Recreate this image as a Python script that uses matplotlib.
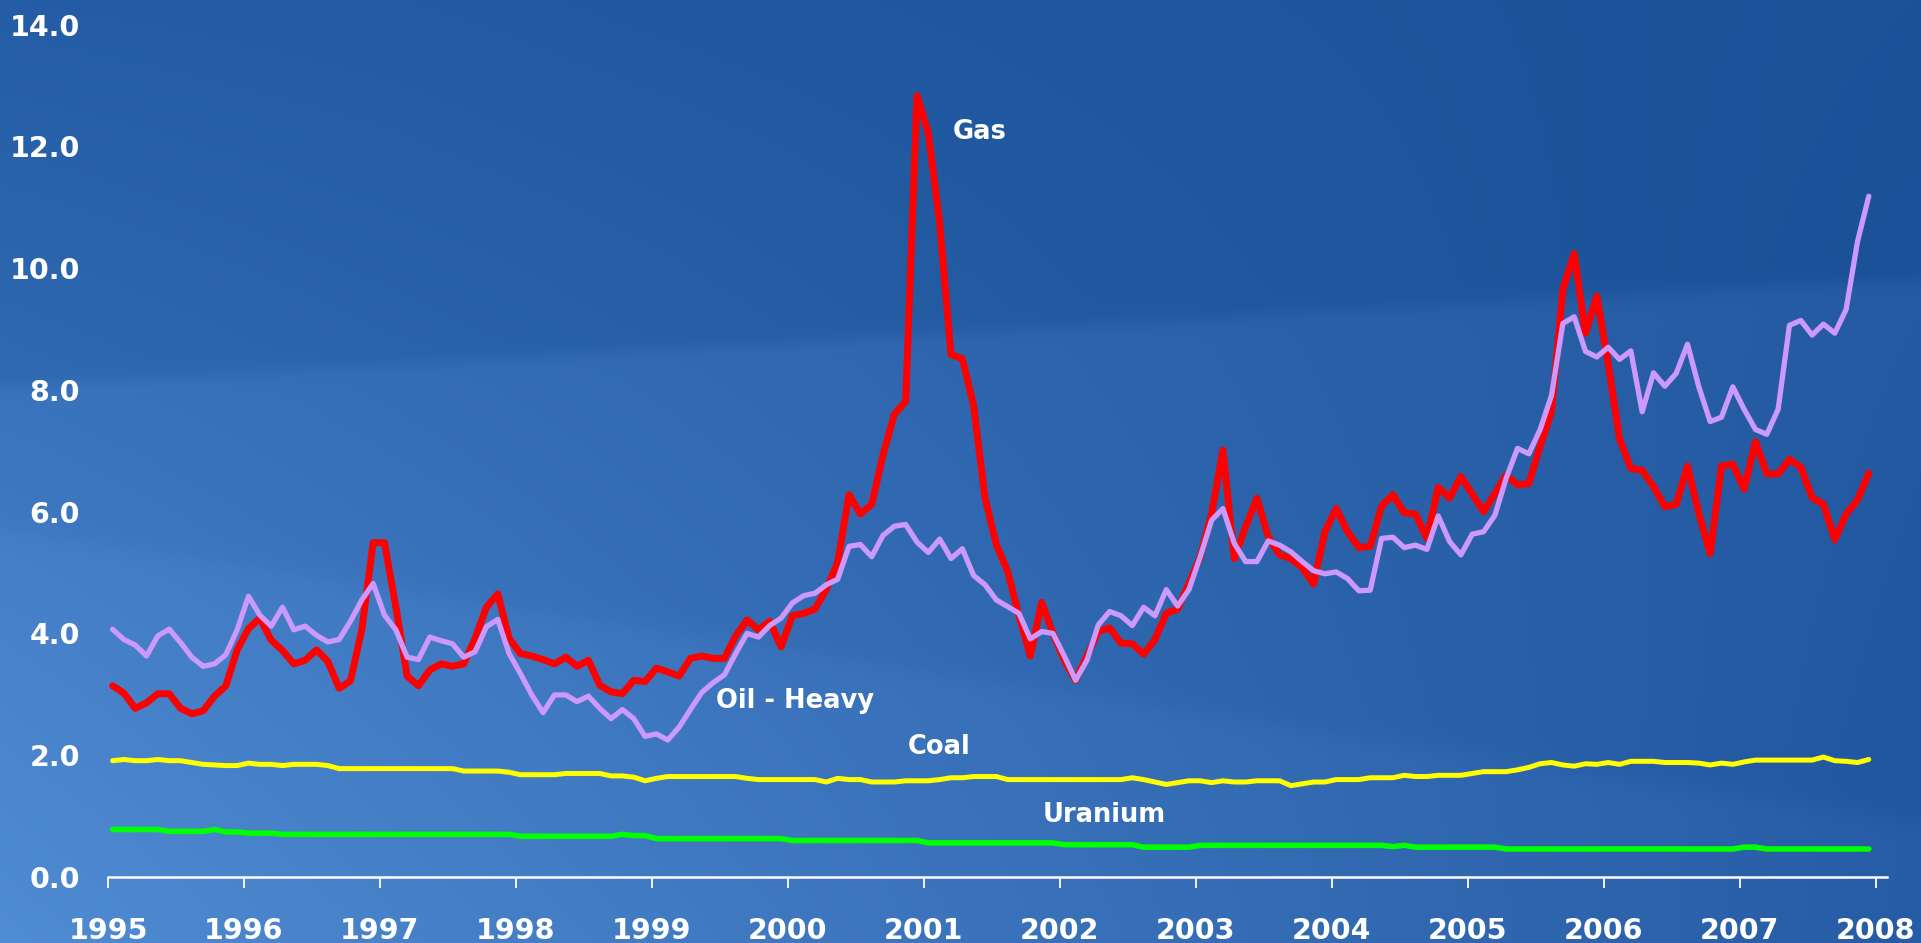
import numpy as np
import matplotlib.pyplot as plt

# monthly prices, Jan 1995 .. Dec 2007
years = list(range(1995, 2009))
yticks = [0, 2, 4, 6, 8, 10, 12, 14]

gas = [
    3.14, 3.02, 2.77, 2.86, 3.01, 3.01, 2.77, 2.68, 2.73, 2.97, 3.14, 3.73,
    4.08, 4.25, 3.89, 3.72, 3.50, 3.56, 3.73, 3.54, 3.10, 3.22, 4.06, 5.49,
    5.49, 4.44, 3.30, 3.14, 3.40, 3.50, 3.46, 3.50, 3.92, 4.43, 4.65, 3.92,
    3.67, 3.63, 3.57, 3.50, 3.61, 3.46, 3.56, 3.15, 3.04, 3.01, 3.23, 3.21,
    3.43, 3.37, 3.30, 3.59, 3.63, 3.59, 3.59, 3.96, 4.22, 4.06, 4.20, 3.78,
    4.29, 4.33, 4.40, 4.73, 5.17, 6.28, 5.96, 6.12, 6.93, 7.60, 7.81, 12.83,
    12.22, 10.74, 8.58, 8.51, 7.74, 6.23, 5.46, 5.02, 4.29, 3.63, 4.51, 4.00,
    3.56, 3.23, 3.63, 4.03, 4.09, 3.84, 3.83, 3.66, 3.90, 4.33, 4.40, 4.82,
    5.26, 5.97, 7.01, 5.23, 5.75, 6.22, 5.59, 5.29, 5.23, 5.08, 4.81, 5.67,
    6.05, 5.67, 5.41, 5.43, 6.09, 6.28, 5.98, 5.96, 5.56, 6.40, 6.22, 6.58,
    6.29, 6.00, 6.30, 6.60, 6.44, 6.46, 7.08, 7.64, 9.65, 10.24, 8.93, 9.54,
    8.43, 7.20, 6.71, 6.68, 6.41, 6.08, 6.12, 6.75, 5.97, 5.31, 6.75, 6.78,
    6.37, 7.15, 6.62, 6.62, 6.86, 6.73, 6.23, 6.12, 5.54, 5.96, 6.19, 6.63,
]

oil_heavy = [
    4.07, 3.90, 3.81, 3.63, 3.96, 4.07, 3.85, 3.61, 3.46, 3.50, 3.65, 4.06,
    4.61, 4.30, 4.12, 4.43, 4.06, 4.12, 3.97, 3.86, 3.90, 4.20, 4.55, 4.82,
    4.30, 4.06, 3.61, 3.57, 3.94, 3.88, 3.83, 3.61, 3.70, 4.11, 4.23, 3.67,
    3.34, 2.99, 2.70, 2.99, 2.99, 2.88, 2.97, 2.77, 2.60, 2.75, 2.60, 2.31,
    2.35, 2.25, 2.46, 2.75, 3.03, 3.19, 3.32, 3.67, 4.00, 3.94, 4.13, 4.25,
    4.50, 4.62, 4.66, 4.80, 4.89, 5.43, 5.46, 5.26, 5.61, 5.76, 5.79, 5.50,
    5.33, 5.55, 5.23, 5.39, 4.95, 4.80, 4.55, 4.44, 4.33, 3.91, 4.03, 4.00,
    3.63, 3.23, 3.56, 4.14, 4.36, 4.29, 4.13, 4.43, 4.29, 4.72, 4.45, 4.72,
    5.26, 5.86, 6.05, 5.48, 5.18, 5.18, 5.52, 5.45, 5.34, 5.18, 5.03, 4.98,
    5.01, 4.90, 4.70, 4.71, 5.56, 5.58, 5.41, 5.45, 5.38, 5.93, 5.51, 5.29,
    5.63, 5.67, 5.94, 6.55, 7.04, 6.95, 7.35, 7.91, 9.09, 9.20, 8.63, 8.54,
    8.70, 8.50, 8.64, 7.64, 8.28, 8.06, 8.27, 8.75, 8.05, 7.48, 7.55, 8.05,
    7.68, 7.35, 7.27, 7.68, 9.06, 9.14, 8.90, 9.08, 8.93, 9.32, 10.43, 11.18,
]

coal = [
    1.91, 1.93, 1.91, 1.91, 1.93, 1.91, 1.91, 1.88, 1.85, 1.84, 1.83, 1.83,
    1.87, 1.85, 1.85, 1.83, 1.85, 1.85, 1.85, 1.83, 1.78, 1.78, 1.78, 1.78,
    1.78, 1.78, 1.78, 1.78, 1.78, 1.78, 1.78, 1.74, 1.74, 1.74, 1.74, 1.72,
    1.68, 1.68, 1.68, 1.68, 1.70, 1.70, 1.70, 1.70, 1.66, 1.66, 1.64, 1.58,
    1.62, 1.65, 1.65, 1.65, 1.65, 1.65, 1.65, 1.65, 1.62, 1.60, 1.60, 1.60,
    1.60, 1.60, 1.60, 1.56, 1.62, 1.60, 1.60, 1.56, 1.56, 1.56, 1.58, 1.58,
    1.58, 1.60, 1.63, 1.63, 1.65, 1.65, 1.65, 1.60, 1.60, 1.60, 1.60, 1.60,
    1.60, 1.60, 1.60, 1.60, 1.60, 1.60, 1.63, 1.60, 1.56, 1.52, 1.55, 1.58,
    1.58, 1.55, 1.58, 1.56, 1.56, 1.58, 1.58, 1.58, 1.50, 1.53, 1.56, 1.56,
    1.60, 1.60, 1.60, 1.63, 1.63, 1.63, 1.67, 1.65, 1.65, 1.67, 1.67, 1.67,
    1.70, 1.73, 1.73, 1.73, 1.76, 1.80, 1.86, 1.88, 1.84, 1.82, 1.86, 1.85,
    1.88, 1.85, 1.90, 1.90, 1.90, 1.88, 1.88, 1.88, 1.87, 1.84, 1.87, 1.85,
    1.89, 1.92, 1.92, 1.92, 1.92, 1.92, 1.92, 1.97, 1.91, 1.90, 1.88, 1.93,
]

uranium = [
    0.78, 0.78, 0.78, 0.78, 0.78, 0.75, 0.75, 0.75, 0.75, 0.78, 0.74, 0.74,
    0.72, 0.72, 0.72, 0.70, 0.70, 0.70, 0.70, 0.70, 0.70, 0.70, 0.70, 0.70,
    0.70, 0.70, 0.70, 0.70, 0.70, 0.70, 0.70, 0.70, 0.70, 0.70, 0.70, 0.70,
    0.67, 0.67, 0.67, 0.67, 0.67, 0.67, 0.67, 0.67, 0.67, 0.70, 0.68, 0.68,
    0.63, 0.63, 0.63, 0.63, 0.63, 0.63, 0.63, 0.63, 0.63, 0.63, 0.63, 0.63,
    0.60, 0.60, 0.60, 0.60, 0.60, 0.60, 0.60, 0.60, 0.60, 0.60, 0.60, 0.60,
    0.56, 0.56, 0.56, 0.56, 0.56, 0.56, 0.56, 0.56, 0.56, 0.56, 0.56, 0.56,
    0.53, 0.53, 0.53, 0.53, 0.53, 0.53, 0.53, 0.49, 0.49, 0.49, 0.49, 0.49,
    0.52, 0.52, 0.52, 0.52, 0.52, 0.52, 0.52, 0.52, 0.52, 0.52, 0.52, 0.52,
    0.52, 0.52, 0.52, 0.52, 0.52, 0.50, 0.52, 0.49, 0.49, 0.49, 0.49, 0.49,
    0.49, 0.49, 0.49, 0.46, 0.46, 0.46, 0.46, 0.46, 0.46, 0.46, 0.46, 0.46,
    0.46, 0.46, 0.46, 0.46, 0.46, 0.46, 0.46, 0.46, 0.46, 0.46, 0.46, 0.46,
    0.49, 0.49, 0.46, 0.46, 0.46, 0.46, 0.46, 0.46, 0.46, 0.46, 0.46, 0.46,
]

t = 1995 + (np.arange(len(gas)) + 0.4) / 12.0

W, H = 1921, 943
fig = plt.figure(figsize=(W / 100, H / 100), dpi=100)

# slide-style blue backdrop: corner gradient plus two soft diagonal bands
bg_ax = fig.add_axes([0, 0, 1, 1])
bg_ax.set_axis_off()
u = np.linspace(0, 1, W)[None, :]
w = np.linspace(0, 1, H)[:, None]
tl = np.array([36, 93, 166]) / 255.0
tr = np.array([27, 82, 152]) / 255.0
bl = np.array([64, 124, 194]) / 255.0
br = np.array([22, 76, 148]) / 255.0
img = ((1 - u) * (1 - w))[..., None] * tl + (u * (1 - w))[..., None] * tr \
    + ((1 - u) * w)[..., None] * bl + (u * w)[..., None] * br
band1 = 1 / (1 + np.exp(-(w * H - (0.41 - 0.115 * u) * H) / 4.0))
band2 = 1 / (1 + np.exp(-(w * H - (529 + 0.154 * u * W)) / 6.0))
img = img + band1[..., None] * np.array([10, 10, 11]) / 255.0 \
    + band2[..., None] * np.array([6, 6, 6]) / 255.0
bg_ax.imshow(np.clip(img, 0, 1), aspect='auto', extent=[0, 1, 0, 1],
             interpolation='bilinear')
bg_ax.set_xlim(0, 1)
bg_ax.set_ylim(0, 1)

ax = fig.add_axes([108 / W, 1 - 877 / H, (1887 - 108) / W, (877 - 24.5) / H])
ax.patch.set_alpha(0)

ax.plot(t, uranium, color='#00ff00', lw=4.0, solid_capstyle='round')
ax.plot(t, coal, color='#ffff00', lw=3.6, solid_capstyle='round')
ax.plot(t, gas, color='#ff0000', lw=5.0, solid_capstyle='round')
ax.plot(t, oil_heavy, color='#cc99ff', lw=3.8, solid_capstyle='round')

txt = dict(color='white', fontsize=18.5, fontweight='bold', ha='center',
           va='center')
ax.text(2001.41, 12.23, 'Gas', **txt)
ax.text(2000.05, 2.89, 'Oil - Heavy', **txt)
ax.text(2001.11, 2.13, 'Coal', **txt)
ax.text(2002.33, 1.02, 'Uranium', **txt)

ax.set_xlim(1995, 2008.084)
ax.set_ylim(0, 14)
ax.set_xticks(years)
ax.set_xticklabels([str(y) for y in years])
ax.set_yticks(yticks)
ax.set_yticklabels(['{:.1f}'.format(v) for v in yticks])

for side in ['left', 'top', 'right']:
    ax.spines[side].set_visible(False)
ax.spines['bottom'].set_color('white')
ax.spines['bottom'].set_linewidth(1.8)

ax.tick_params(axis='x', colors='white', direction='out', length=8,
               width=1.3, pad=21, labelsize=20.5)
ax.tick_params(axis='y', colors='white', length=0, pad=20, labelsize=20.5)
for lab in ax.get_xticklabels() + ax.get_yticklabels():
    lab.set_fontweight('bold')

fig.savefig('out.png', dpi=100)
